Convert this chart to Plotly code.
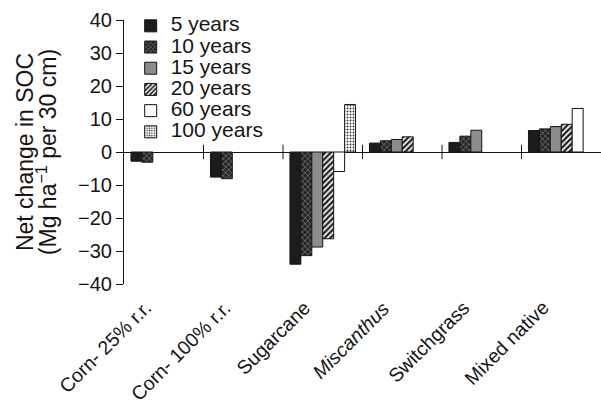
import plotly.graph_objects as go

# Net change in soil organic carbon by bioenergy feedstock and time horizon
categories = ["Corn- 25% r.r.", "Corn- 100% r.r.", "Sugarcane",
              "<i>Miscanthus</i>", "Switchgrass", "Mixed native"]

years_5 = [-2.8, -7.6, -34.0, 2.7, 2.9, 6.5]
years_10 = [-3.1, -8.1, -31.4, 3.4, 4.8, 7.0]
years_15 = [None, None, -28.8, 3.8, 6.6, 7.7]
years_20 = [None, None, -26.3, 4.6, None, 8.4]
years_60 = [None, None, -5.9, None, None, 13.2]
years_100 = [None, None, 14.4, None, None, None]

series_names = ["5 years", "10 years", "15 years", "20 years", "60 years", "100 years"]
series_values = [years_5, years_10, years_15, years_20, years_60, years_100]

# fill and hatch style per horizon
styles = [
    dict(color="#1c1c1c", pattern=dict(shape="")),
    dict(color="#262626", pattern=dict(shape="x", fgcolor="white", bgcolor="#262626",
                                       size=4, solidity=0.25, fillmode="overlay")),
    dict(color="#8c8c8c", pattern=dict(shape="")),
    dict(color="white", pattern=dict(shape="/", fgcolor="#1c1c1c", bgcolor="white",
                                     size=4, solidity=0.55, fillmode="replace")),
    dict(color="white", pattern=dict(shape="")),
    dict(color="white", pattern=dict(shape=".", fgcolor="#333333", bgcolor="white",
                                     size=3, solidity=0.3, fillmode="replace")),
]

FONT = "Liberation Sans, Arial, sans-serif"
INK = "#151515"

fig = go.Figure()
for name, vals, st in zip(series_names, series_values, styles):
    fig.add_trace(go.Bar(
        x=categories, y=vals,
        name=f'<span style="font-size:21px">{name}</span>',
        marker=dict(color=st["color"], pattern=st["pattern"],
                    line=dict(color=INK, width=1)),
    ))

# small tick marks crossing the zero line between categories
for i in range(1, len(categories)):
    fig.add_shape(type="line", xref="x", yref="y",
                  x0=i - 0.5, x1=i - 0.5, y0=-2.2, y1=2.2,
                  line=dict(color=INK, width=1))

# slanted category labels hanging below the plot area
for cat in categories:
    fig.add_annotation(x=cat, xref="x", y=0, yref="paper", text=cat,
                       textangle=-45, xanchor="right", yanchor="top",
                       showarrow=False, xshift=-6, yshift=-10,
                       font=dict(size=19.5, family=FONT, color=INK))

fig.update_layout(
    width=601, height=412,
    margin=dict(l=124, r=0, t=20, b=128, pad=0),
    paper_bgcolor="white", plot_bgcolor="white",
    font=dict(family=FONT, color=INK, size=18),
    barmode="group", bargap=0.175, bargroupgap=0,
    showlegend=True,
    legend=dict(x=0.014, y=1.037, xanchor="left", yanchor="top",
                font=dict(size=14, family=FONT, color=INK),
                bgcolor="rgba(0,0,0,0)", tracegroupgap=0, traceorder="normal"),
)

fig.update_xaxes(
    range=[-0.5, 5.5], showline=False, showgrid=False, zeroline=False,
    ticks="", showticklabels=False, automargin=False,
)

fig.update_yaxes(
    range=[-40, 40], dtick=10, tick0=0,
    showline=True, linecolor=INK, linewidth=1,
    ticks="outside", ticklen=7, tickcolor=INK, tickwidth=1,
    showgrid=False, zeroline=True, zerolinecolor=INK, zerolinewidth=1,
    tickfont=dict(size=20, family=FONT, color=INK),
    title=dict(text='<span style="font-size:23px">Net change in SOC</span><br>'
                    '<span style="font-size:23px">(Mg ha<sup>−1</sup> per 30 cm)</span>',
               font=dict(size=17.7, family=FONT, color=INK), standoff=16),
    automargin=False,
)

fig.write_html("out.html")
